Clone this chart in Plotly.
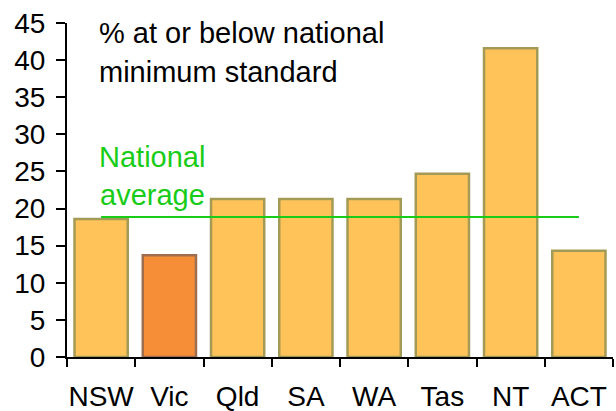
import plotly.graph_objects as go

states = ["NSW", "Vic", "Qld", "SA", "WA", "Tas", "NT", "ACT"]
pct_below = [18.6, 13.7, 21.3, 21.3, 21.3, 24.7, 41.6, 14.3]
national_avg = 18.85
y_ticks = [0, 5, 10, 15, 20, 25, 30, 35, 40, 45]

bar_fill = ["#FFC35A" if s != "Vic" else "#F68E38" for s in states]
bar_line = ["#A39A55" if s != "Vic" else "#9E6E4E" for s in states]

FONT = "Liberation Sans, Arial, sans-serif"
GREEN = "#18CC18"

fig = go.Figure()
fig.add_trace(go.Bar(
    x=states, y=pct_below,
    marker=dict(color=bar_fill, line=dict(color=bar_line, width=2.5)),
    width=0.78, hoverinfo="skip",
))
fig.add_trace(go.Scatter(
    x=states, y=[national_avg] * len(states), mode="lines",
    line=dict(color=GREEN, width=2), hoverinfo="skip",
))

fig.update_layout(
    width=616, height=411,
    margin=dict(l=67, r=3, t=23, b=54, autoexpand=False),
    plot_bgcolor="white", paper_bgcolor="white",
    showlegend=False,
    font=dict(family=FONT, size=28, color="black"),
    xaxis=dict(
        type="category", range=[-0.5, 7.5], automargin=False,
        showline=True, linecolor="black", linewidth=2,
        ticks="outside", tickson="boundaries", ticklen=8, tickwidth=2, tickcolor="black",
        tickfont=dict(size=28), ticklabelstandoff=13, tickangle=0,
        showgrid=False, zeroline=False, fixedrange=True,
    ),
    yaxis=dict(
        range=[0, 45], tickvals=y_ticks, ticktext=[str(v) for v in y_ticks],
        automargin=False,
        showline=True, linecolor="black", linewidth=2,
        ticks="outside", ticklen=9, tickwidth=2, tickcolor="black",
        tickfont=dict(size=28), ticklabelstandoff=5,
        showgrid=False, zeroline=False, fixedrange=True,
    ),
)

for txt, yp in [("% at or below national", 33), ("minimum standard", 72)]:
    fig.add_annotation(
        text=txt, xref="paper", yref="paper",
        x=(97 - 67) / 546, y=(357 - yp) / 334,
        xanchor="left", yanchor="middle", showarrow=False,
        font=dict(size=29, color="black", family=FONT),
    )
for txt, yp in [("National", 157), ("average", 195)]:
    fig.add_annotation(
        text=txt, xref="paper", yref="paper",
        x=(152 - 67) / 546, y=(357 - yp) / 334,
        xanchor="center", yanchor="middle", showarrow=False,
        font=dict(size=29, color=GREEN, family=FONT),
    )

fig.write_html(
    "out.html",
    config={"displayModeBar": False},
    post_script="document.body.style.margin='0';document.body.style.overflow='hidden';",
)
